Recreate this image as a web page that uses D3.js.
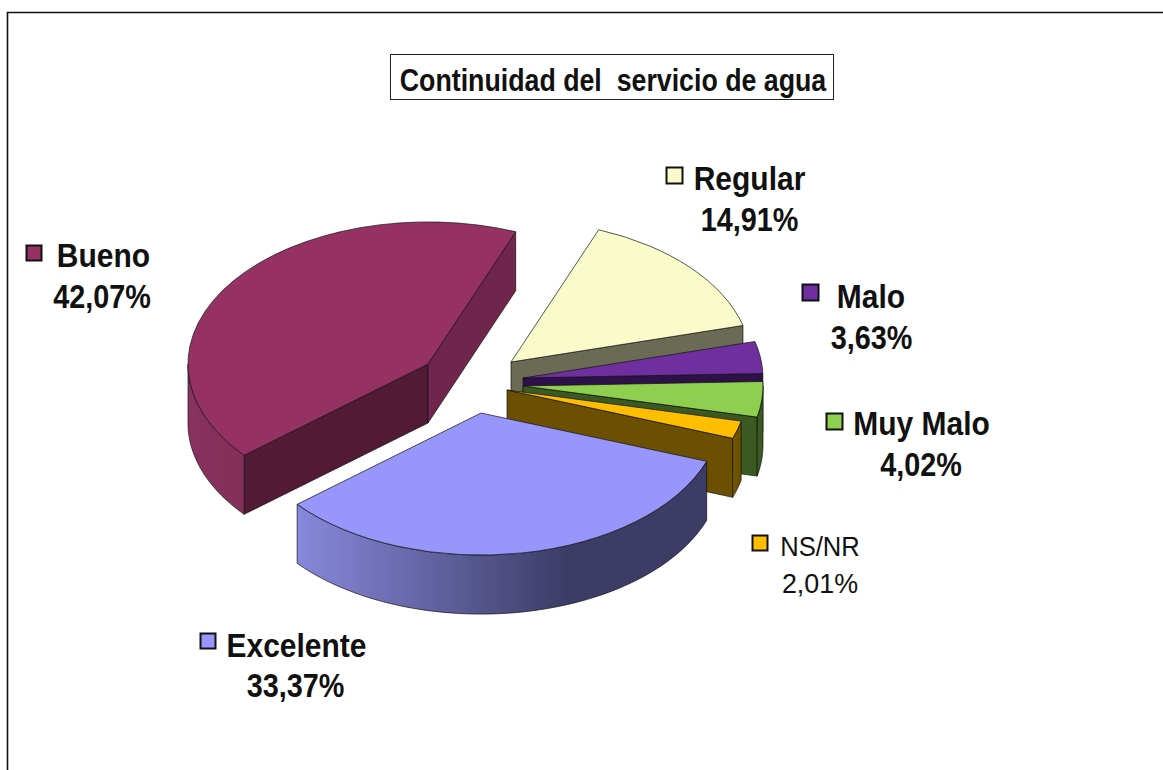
<!DOCTYPE html>
<html lang="es">
<head>
<meta charset="utf-8">
<script src="https://cdn.jsdelivr.net/npm/d3@7"></script>
<style>
html,body{margin:0;padding:0;background:#fff;overflow:hidden}
svg{display:block}
text{font-family:"Liberation Sans",Arial,sans-serif;fill:#111}
</style>
</head>
<body>
<svg id="chart" width="1163" height="770"></svg>
<script>
// ---- data ----
const categories = ["Bueno", "Regular", "Malo", "Muy Malo", "NS/NR", "Excelente"];
const values = [42.07, 14.91, 3.63, 4.02, 2.01, 33.37];
const titleText = "Continuidad del  servicio de agua";

// ---- styles ----
const topColors   = ["#963263", "#fbfacb", "#6f2f9f", "#8fcf50", "#ffbf00", "#9696fb"];
const wallEnd     = ["#70254c", "#6b6b55", "#2e1148", "#3b5a22", "#6a5000", "#3c3c66"];
const wallStart   = ["#531a36", "#6b6b55", "#2e1148", "#3b5a22", "#6a5000", "#3c3c66"];
const outerLight  = ["#8a3160", "#6b6b55", "#2e1148", "#3b5a22", "#775a00", "#8888dc"];
const outerDark   = ["#853059", "#6b6b55", "#2e1148", "#3b5a22", "#6a5000", "#3c3c66"];
const boldLabel   = [true, true, true, true, false, true];

// ---- layout ----
const W = 1163, H = 770;
const centre = [478, 383];
const rx = 240, tilt = 0.592, depth = 59;
const firstAngleDeg = 230;
const explodeX = [-50, 33, 45, 45, 29, 3];
const explodeY = [-19, -21, -5, 3, 7, 30];
const drawOrder = [0, 1, 2, 3, 4, 5];
const nameCx  = [103.5, 749.5, 871, 921.5, 820, 296.5];
const nameY   = [267, 190, 308, 435, 556, 657];
const pctCx   = [102, 749.5, 871.5, 921, 820, 295.5];
const pctY    = [308, 231, 349, 476, 593, 697];
const keyX    = [26, 666, 802, 826, 752, 200];
const keyY    = [245, 167, 284, 413, 535, 633];
const keyW    = [15, 16, 16, 16, 15, 15];

const svg = d3.select("#chart");
const defs = svg.append("defs");

svg.append("path").attr("d", `M7.5 ${H}V12.5H${W}`)
  .attr("fill", "none").attr("stroke", "#111").attr("stroke-width", 1.6);

// title
svg.append("rect").attr("x", 390.5).attr("y", 54.5).attr("width", 443).attr("height", 45)
  .attr("fill", "#fff").attr("stroke", "#222").attr("stroke-width", 1);
svg.append("text").attr("transform", "translate(613,91) scale(1,1.14)")
  .attr("text-anchor", "middle").attr("font-weight", "bold").attr("font-size", 26.75)
  .attr("xml:space", "preserve").style("white-space", "pre").text(titleText);

// pie geometry through d3
const a0 = firstAngleDeg * Math.PI / 180;
const pie = d3.pie().sort(null).value(d => d).startAngle(a0).endAngle(a0 + 2 * Math.PI);
const arcs = pie(values);
const arc = d3.arc().innerRadius(0).outerRadius(rx);
const line = d3.line();
const px = a => rx * Math.sin(a);
const py = a => -rx * tilt * Math.cos(a);
const outerArea = d3.area().x(a => px(a)).y0(a => py(a)).y1(a => py(a) + depth);

const edge = "#111";
const sliceGroups = svg.append("g");

drawOrder.forEach(i => {
  const d = arcs[i];
  const g = sliceGroups.append("g")
    .attr("transform", `translate(${centre[0] + explodeX[i]},${centre[1] + explodeY[i]})`);

  // gradient for rim
  const gid = "rim" + i;
  const grad = defs.append("linearGradient").attr("id", gid)
    .attr("x1", 0).attr("x2", 1).attr("y1", 0).attr("y2", 0);
  grad.append("stop").attr("offset", 0).attr("stop-color", outerLight[i]);
  grad.append("stop").attr("offset", 0.66).attr("stop-color", outerDark[i]);
  grad.append("stop").attr("offset", 1).attr("stop-color", outerDark[i]);

  const wall = (a, fill) => {
    const x = px(a), y = py(a);
    g.append("path")
      .attr("d", line([[0, 0], [x, y], [x, y + depth], [0, depth]]) + "Z")
      .attr("fill", fill).attr("stroke", edge).attr("stroke-width", 0.7);
  };
  // radial walls facing the viewer
  if (Math.sin(d.startAngle) < 0) wall(d.startAngle, wallStart[i]);
  if (Math.sin(d.endAngle) > 0) wall(d.endAngle, wallEnd[i]);

  // curved rim: only the part in front (between 90° and 270°)
  const lo = Math.max(d.startAngle, Math.PI / 2);
  const hi = Math.min(d.endAngle, 3 * Math.PI / 2);
  let rims = [];
  if (lo < hi) rims.push([lo, hi]);
  const lo2 = Math.max(d.startAngle, 5 * Math.PI / 2);
  const hi2 = Math.min(d.endAngle, 7 * Math.PI / 2);
  if (lo2 < hi2) rims.push([lo2, hi2]);
  rims.forEach(([s, e]) => {
    const steps = d3.range(0, 61).map(t => s + (e - s) * t / 60);
    g.append("path").attr("d", outerArea(steps))
      .attr("fill", `url(#${gid})`).attr("stroke", edge).attr("stroke-width", 0.7);
  });

  // top face
  g.append("path")
    .attr("d", arc({startAngle: d.startAngle, endAngle: d.endAngle}))
    .attr("transform", `scale(1,${tilt})`)
    .attr("fill", topColors[i])
    .attr("stroke", edge).attr("stroke-width", 0.7)
    .attr("vector-effect", "non-scaling-stroke")
    .style("vector-effect", "non-scaling-stroke");
});

// labels
const fmt = v => v.toFixed(2).replace(".", ",") + "%";
categories.forEach((name, i) => {
  const bold = boldLabel[i];
  const size = bold ? 30 : 25.6;
  const sy = bold ? 1.12 : 1.1;
  const pctSx = bold ? 0.96 : 1.05;
  const lab = svg.append("g");
  lab.append("rect").attr("x", keyX[i] + 0.5).attr("y", keyY[i] + 0.5)
    .attr("width", keyW[i]).attr("height", keyW[i])
    .attr("fill", topColors[i]).attr("stroke", "#111").attr("stroke-width", 2);
  lab.append("text").attr("transform", `translate(${nameCx[i]},${nameY[i]}) scale(1,${sy})`)
    .attr("text-anchor", "middle").attr("font-size", size)
    .attr("font-weight", bold ? "bold" : "normal").text(name);
  lab.append("text").attr("transform", `translate(${pctCx[i]},${pctY[i]}) scale(${pctSx},${sy})`)
    .attr("text-anchor", "middle").attr("font-size", size)
    .attr("font-weight", bold ? "bold" : "normal").text(fmt(values[i]));
});
</script>
</body>
</html>
